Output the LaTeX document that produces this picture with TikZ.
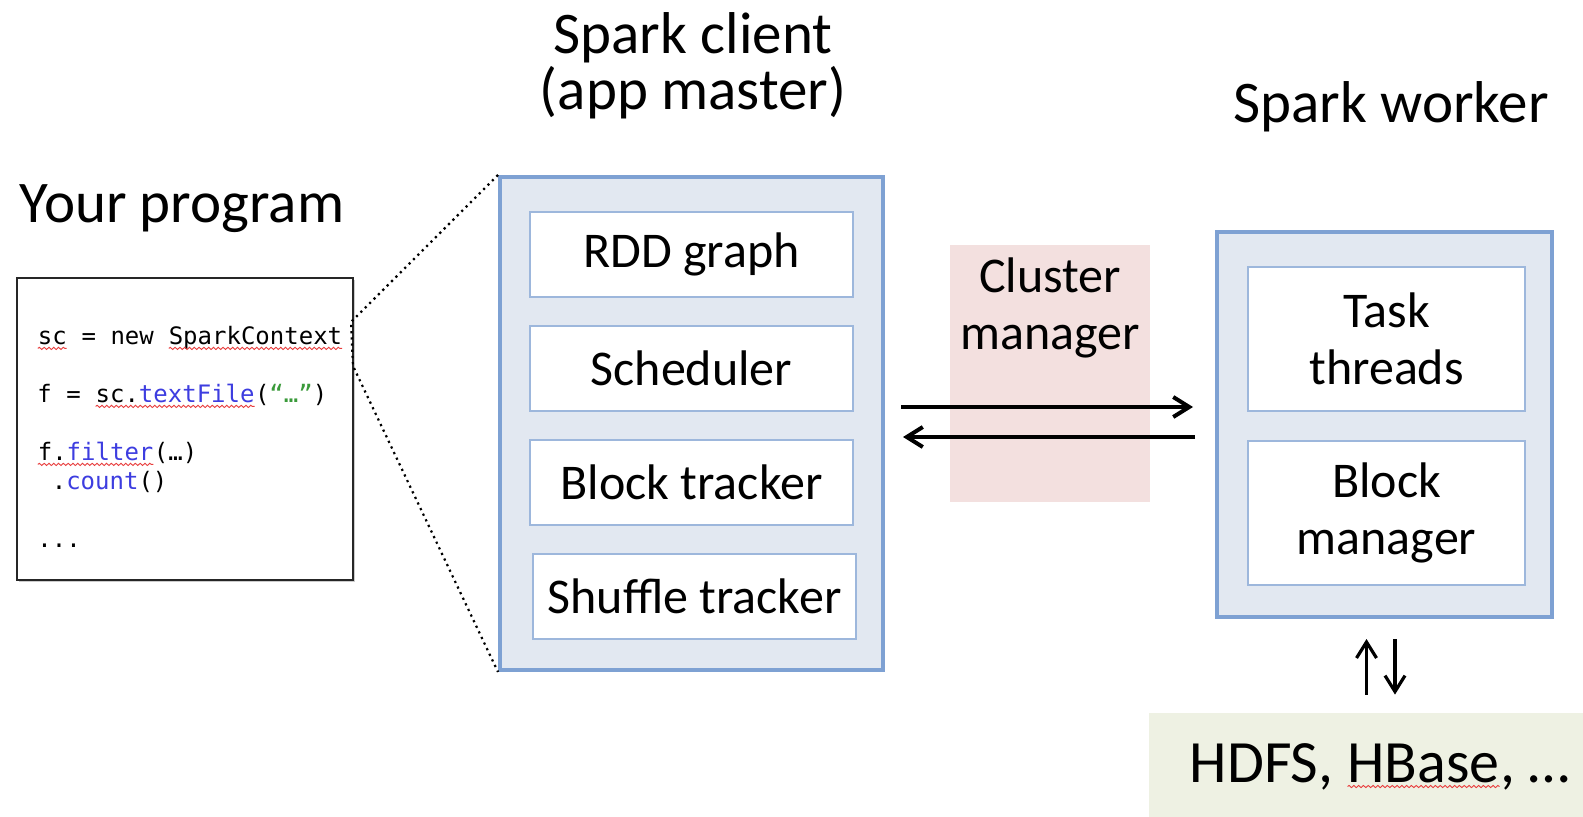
\documentclass[tikz,border=0pt]{standalone}
\usepackage{fontspec}
\setmainfont{Carlito}
\setmonofont{DejaVu Sans Mono}
\usetikzlibrary{arrows.meta, shadows, decorations.pathmorphing}
\definecolor{boxfill}{HTML}{E2E8F1}
\definecolor{boxline}{HTML}{7EA1D3}
\definecolor{innerline}{HTML}{9DB7DC}
\definecolor{clusterfill}{HTML}{F3E0DF}
\definecolor{hdfsfill}{HTML}{EEF1E3}
\definecolor{codeblue}{HTML}{3D3DE0}
\definecolor{codegreen}{HTML}{3A9A3A}
\definecolor{wavered}{HTML}{E83C3C}
% spell-check squiggle under a word
\newcommand{\redwave}[1]{\tikz[baseline=(w.base)]{\node (w) [shape=rectangle, draw=none, fill=none, inner sep=0pt, outer sep=0pt, minimum width=0pt, minimum height=0pt, anchor=base] {#1};
    \draw [wavered, line width=0.45pt, decorate, decoration={snake, amplitude=0.55pt, segment length=2.4pt}] ([yshift=-2.2pt]w.base west) -- ([yshift=-2.2pt]w.base east);}}
\tikzstyle{title} = [font=\fontsize{29.5}{28}\selectfont, align=center, anchor=base]
\tikzstyle{outer} = [rectangle, draw=boxline, line width=2pt, fill=boxfill]
\tikzstyle{inner} = [rectangle, draw=innerline, line width=1pt, fill=white, minimum width=161.5pt, minimum height=42.5pt, text centered, align=center, font=\fontsize{25}{28.5}\selectfont]
\tikzstyle{arrow} = [line width=2pt, -{Straight Barb[length=8pt,width=10pt]}]
\tikzstyle{varrow} = [line width=1.6pt, -{Straight Barb[length=8pt,width=10pt]}]
\tikzstyle{zoomline} = [dotted, line width=1.1pt]

\begin{document}
\begin{tikzpicture}[x=0.5pt, y=-0.5pt, node distance=57pt]
    \useasboundingbox (0,0) rectangle (1583,817);
    % titles (base = last line)
    \node (tprog) [title] at (182,223) {Your program};
    \node (tclient) [title] at (693,110) {Spark client\\(app master)};
    \node (tworker) [title] at (1391,123) {Spark worker};

    % user program
    \node (prog) [rectangle, draw=black!85, line width=1.2pt, fill=white, minimum width=168pt, minimum height=151pt, drop shadow={shadow xshift=0.8pt, shadow yshift=-0.8pt, opacity=0.4}] at (185,429) {};
    \node (code) [anchor=base west, align=left, inner sep=0pt, font=\ttfamily\fontsize{12}{14.5}\selectfont] at (37,547) {%
        \redwave{sc} = new \redwave{SparkContext}\\[14.5pt]
        f = \redwave{sc.\textcolor{codeblue}{textFile}}(\textcolor{codegreen}{“…”})\\[14.5pt]
        \redwave{f.\textcolor{codeblue}{filter}}(…)\\
        \hphantom{f}.\textcolor{codeblue}{count}()\\[14.5pt]
        ...};

    \coordinate (zoomtop) at (351,322);
    \coordinate (zoombot) at (353,366);

    % spark client
    \node (client) [outer, minimum width=191.5pt, minimum height=246.5pt] at (691.5,423.5) {};
    \node (rdd) [inner] at (691.5,254.5) {RDD graph};
    \node (sched) [inner, below of=rdd] {Scheduler};
    \node (blocktr) [inner, below of=sched] {Block tracker};
    \node (shuffle) [inner, below of=blocktr, xshift=1.5pt] {Shuffle tracker};
    \draw [zoomline] (client.north west) -- (zoomtop) -- (zoombot) -- (client.south west);

    % cluster manager
    \node (cluster) [rectangle, fill=clusterfill, minimum width=100pt, minimum height=128.5pt] at (1050,373.5) {};
    \node (cmtext) [anchor=base, align=center, font=\fontsize{25}{28.5}\selectfont] at (1050,350) {Cluster\\manager};

    % spark worker
    \node (worker) [outer, minimum width=167.5pt, minimum height=192.5pt] at (1384.5,424.5) {};
    \node (task) [inner, minimum width=138.5pt, minimum height=72pt] at (1386.5,339) {Task\\threads};
    \node (blockmgr) [inner, minimum width=138.5pt, minimum height=72pt, below of=task, node distance=87pt] {Block\\manager};

    % storage
    \node (hdfs) [rectangle, fill=hdfsfill, minimum width=231pt, minimum height=53.5pt, font=\fontsize{30}{34}\selectfont] at (1380,766.5) {HDFS, \redwave{HBase}, …};

    \coordinate (reqstart) at ([yshift=8.25pt]client.east);
    \coordinate (repstart) at ([yshift=-6.25pt]worker.west);
    \draw [arrow, shorten <=8pt, shorten >=11pt] (reqstart) -- (reqstart -| worker.west);
    \draw [arrow, shorten <=10pt, shorten >=9pt] (repstart) -- (repstart -| client.east);

    \coordinate (upline) at ([xshift=-9pt]worker.south);
    \coordinate (downline) at ([xshift=5.25pt]worker.south);
    \draw [varrow, shorten <=9pt, shorten >=10pt] (upline |- hdfs.north) -- (upline);
    \draw [varrow, shorten <=10pt, shorten >=9pt] (downline) -- (downline |- hdfs.north);

\end{tikzpicture}
\end{document}
